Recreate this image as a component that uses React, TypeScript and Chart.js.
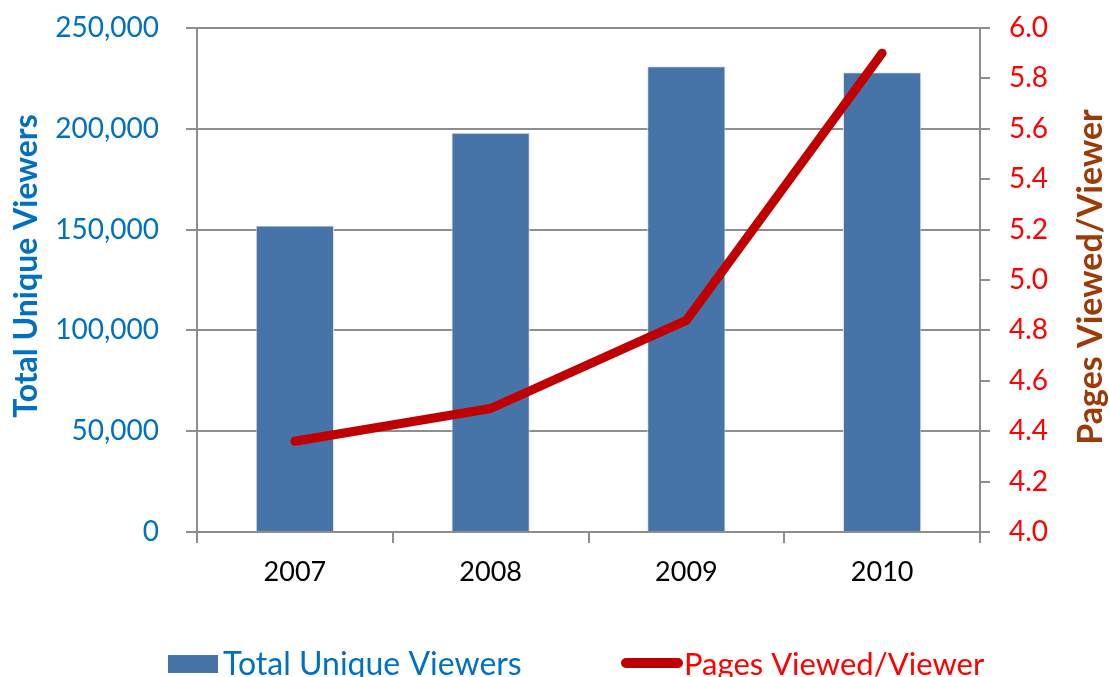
import { useEffect, useRef } from "react";
import { Chart, registerables } from "chart.js";

Chart.register(...registerables);

const categories = ["2007", "2008", "2009", "2010"];
const uniqueViewers = [152000, 198000, 231000, 228000];
const pagesPerViewer = [4.36, 4.49, 4.84, 5.9];
const leftAxis = { min: 0, max: 250000, step: 50000 };
const rightAxis = { min: 4, max: 6, step: 0.2 };
const leftTitle = "Total Unique Viewers";
const rightTitle = "Pages Viewed/Viewer";

const FONT = "Lato, 'Open Sans', sans-serif";
const BAR_COLOR = "#4673A8";
const LINE_COLOR = "#C00000";
const BLUE = "#0070C0";
const RED = "#FF0000";
const BROWN = "#9C3A08";
const GRID = "#8E8E8E";

const decorPlugin = {
  id: "decor",
  afterDraw(chart: any) {
    const ctx = chart.ctx;
    const area = chart.chartArea;
    const cy = (area.top + area.bottom) / 2;
    ctx.save();
    ctx.textAlign = "center";
    ctx.textBaseline = "alphabetic";
    // left title
    ctx.font = `bold 32px ${FONT}`;
    ctx.fillStyle = BLUE;
    ctx.save();
    ctx.translate(37, cy - 14);
    ctx.rotate(-Math.PI / 2);
    ctx.fillText(leftTitle, 0, 0);
    ctx.restore();
    // right title
    ctx.font = `bold 34px ${FONT}`;
    ctx.fillStyle = BROWN;
    ctx.save();
    ctx.translate(1102, cy - 3);
    ctx.rotate(-Math.PI / 2);
    ctx.fillText(rightTitle, 0, 0);
    ctx.restore();

    // legend
    const ds = chart.data.datasets;
    ctx.textAlign = "left";
    ctx.font = `32px ${FONT}`;
    ctx.fillStyle = BAR_COLOR;
    ctx.fillRect(168, 655, 50, 18);
    ctx.fillStyle = BLUE;
    ctx.fillText(ds[1].label, 223, 675);

    ctx.strokeStyle = LINE_COLOR;
    ctx.lineWidth = 10;
    ctx.lineCap = "round";
    ctx.beginPath();
    ctx.moveTo(626, 663);
    ctx.lineTo(678, 663);
    ctx.stroke();
    ctx.font = `31px ${FONT}`;
    ctx.fillStyle = RED;
    ctx.fillText(ds[0].label, 684, 675);
    ctx.restore();
  },
};

function noVPad(scale: any, width: number) {
  scale.width = width;
  scale.paddingTop = 0;
  scale.paddingBottom = 0;
}

export default function App() {
  const ref = useRef<HTMLCanvasElement | null>(null);
  useEffect(() => {
    document.body.style.margin = "0";
    const canvas = ref.current;
    if (!canvas) return;
    const chart = new Chart(canvas, {
      type: "bar",
      data: {
        labels: categories,
        datasets: [
          {
            type: "line",
            label: rightTitle,
            data: pagesPerViewer,
            yAxisID: "y1",
            borderColor: LINE_COLOR,
            backgroundColor: LINE_COLOR,
            borderWidth: 9,
            borderCapStyle: "round",
            borderJoinStyle: "round",
            pointRadius: 0,
            tension: 0,
            order: 0,
          } as any,
          {
            type: "bar",
            label: leftTitle,
            data: uniqueViewers,
            yAxisID: "y",
            backgroundColor: BAR_COLOR,
            borderColor: "#E4E4E4",
            borderWidth: 1,
            barPercentage: 0.4,
            categoryPercentage: 1,
            order: 1,
          },
        ],
      },
      options: {
        responsive: false,
        animation: false,
        devicePixelRatio: 1,
        layout: { padding: { top: 28, left: 0, right: 0, bottom: 0 } },
        plugins: {
          legend: { display: false },
          tooltip: { enabled: false },
        },
        scales: {
          x: {
            position: "bottom",
            grid: {
              offset: true,
              drawOnChartArea: false,
              drawTicks: true,
              tickLength: 11,
              color: GRID,
              lineWidth: 2,
            },
            border: { display: true, color: GRID, width: 2 },
            ticks: {
              color: "#000000",
              font: { family: FONT, size: 27 },
              padding: 13,
            },
            afterFit(scale: any) {
              scale.height = 145;
              scale.paddingLeft = 0;
              scale.paddingRight = 0;
            },
          },
          y: {
            position: "left",
            min: leftAxis.min,
            max: leftAxis.max,
            grid: {
              drawOnChartArea: true,
              drawTicks: true,
              tickLength: 11,
              color: GRID,
              lineWidth: 2,
            },
            border: { display: true, color: GRID, width: 2 },
            ticks: {
              stepSize: leftAxis.step,
              color: BLUE,
              font: { family: FONT, size: 28 },
              padding: 27,
              callback: (v: any) => Number(v).toLocaleString("en-US"),
            },
            afterFit(scale: any) {
              noVPad(scale, 197);
            },
          },
          y1: {
            position: "right",
            min: rightAxis.min,
            max: rightAxis.max,
            grid: {
              drawOnChartArea: false,
              drawTicks: true,
              tickLength: 10,
              color: GRID,
              lineWidth: 2,
            },
            border: { display: true, color: GRID, width: 2 },
            ticks: {
              stepSize: rightAxis.step,
              color: RED,
              font: { family: FONT, size: 28 },
              padding: 19,
              callback: (v: any) => Number(v).toFixed(1),
            },
            afterFit(scale: any) {
              noVPad(scale, 129);
            },
          },
        },
      } as any,
      plugins: [decorPlugin],
    });
    return () => chart.destroy();
  }, []);
  return (
    <div style={{ width: 1109, height: 677, background: "#fff" }}>
      <canvas ref={ref} width={1109} height={677} />
    </div>
  );
}
